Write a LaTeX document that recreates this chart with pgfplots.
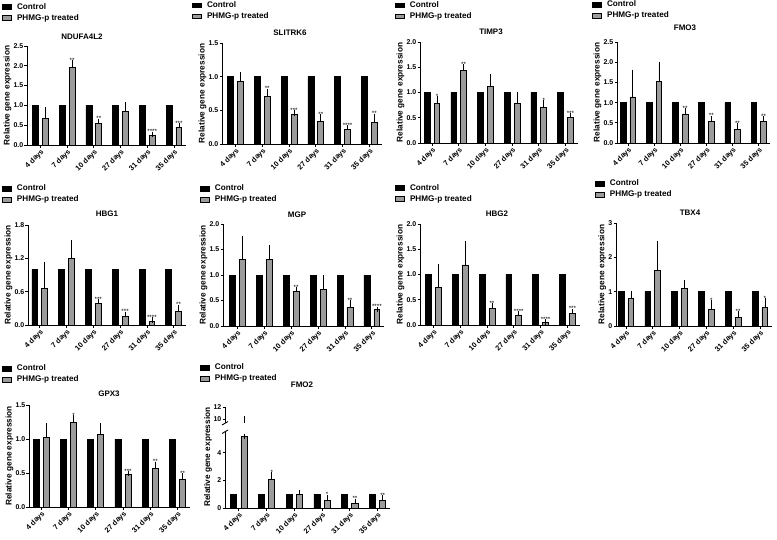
\documentclass[border=0pt]{standalone}
\usepackage{fontspec}
\setmainfont{Liberation Sans}
\usepackage{pgfplots}
\pgfplotsset{compat=1.18}
\definecolor{phmg}{RGB}{155,155,155}
\newcommand\tickfont{\bfseries\fontsize{7}{7}\selectfont}
\newcommand\xtickfont{\bfseries\fontsize{7.4}{7.4}\selectfont}
\newcommand\labfont{\bfseries\fontsize{8.3}{9}\selectfont}
\newcommand\legfont{\bfseries\fontsize{8.2}{8.5}\selectfont}
\newcommand\titfont{\bfseries\fontsize{8}{9}\selectfont}
\newcommand\starfont{\fontsize{6.2}{6.2}\selectfont}
\pgfplotsset{
 panel/.style={
  scale only axis, axis lines=left, axis line style={-, line width=0.9bp, black},
  ymin=0, xmin=-0.5, xmax=5.45, clip=false,
  xtick={0,...,5}, xticklabels={4 days,7 days,10 days,27 days,31 days,35 days},
  x tick label style={rotate=45, anchor=north east, font=\xtickfont, inner sep=0.5bp},
  y tick label style={font=\tickfont, inner sep=1bp},
  tick align=outside, major tick length=2.5bp, tick style={line width=0.8bp, black},
  /pgf/number format/assume math mode=true,
  yticklabel style={/pgf/number format/.cd, fixed, fixed zerofill, precision=1},
  ylabel={Relative gene expression}, ylabel style={font=\labfont, inner sep=1bp},
  legend style={draw=none, fill=none, anchor=north west, font=\legfont, inner sep=0pt,
    row sep=2bp, column sep=5bp, nodes={inner sep=0.5bp, text height=6.2bp, text depth=1.8bp}},
  legend cell align=left,
  legend image code/.code={\path[##1] (0bp,-2.3bp) rectangle (8.5bp,2.3bp);},
 },
 errs/.style={error bars/.cd, y dir=plus, y explicit, error mark=-,
   error bar style={line width=0.7bp, draw=black, solid},
   error mark options={mark size=2.6bp, line width=0.7bp, draw=black, solid}},
 ctrl/.style={ybar, bar width=0.22, bar shift=0, fill=black, draw=black, line width=0.6bp},
 trt/.style={ybar, bar width=0.22, bar shift=0, fill=phmg, draw=black, line width=0.8bp, errs},
 stars/.style={forget plot, only marks, mark=none, nodes near coords, point meta=explicit symbolic,
   nodes near coords style={font=\starfont, anchor=south, inner sep=0.3bp}},
}
\begin{document}
\begin{tikzpicture}
\useasboundingbox (0,0) rectangle (777bp,-540bp);
% ---------- P1 NDUFA4L2
\begin{axis}[panel, at={(27bp,-145bp)}, anchor=south west, width=159bp, height=99bp,
  ymax=2.5, ytick={0,0.5,1,1.5,2,2.5}, legend style={at={(axis description cs:-0.157,1.441)}}]
\addplot[ctrl] coordinates {(-0.185,1) (0.815,1) (1.815,1) (2.815,1) (3.815,1) (4.815,1)};
\addplot[trt] coordinates {(0.185,0.67) +- (0,0.23) (1.185,1.95) +- (0,0.13) (2.185,0.55) +- (0,0.05) (3.185,0.85) +- (0,0.17) (4.185,0.25) +- (0,0.02) (5.185,0.45) +- (0,0.04)};
\addplot[stars] coordinates {(1.185,2.08) [**] (2.185,0.60) [**] (4.185,0.27) [****] (5.185,0.49) [***]};
\legend{Control, PHMG-p treated}
\end{axis}
\node[font=\titfont] at (82bp,-37bp) {NDUFA4L2};
% ---------- P2 SLITRK6
\begin{axis}[panel, at={(222bp,-144bp)}, anchor=south west, width=159.5bp, height=101bp,
  ymax=1.5, ytick={0,0.5,1,1.5}, legend style={at={(axis description cs:-0.188,1.420)}}]
\addplot[ctrl] coordinates {(-0.185,1) (0.815,1) (1.815,1) (2.815,1) (3.815,1) (4.815,1)};
\addplot[trt] coordinates {(0.185,0.93) +- (0,0.10) (1.185,0.71) +- (0,0.07) (2.185,0.44) +- (0,0.02) (3.185,0.33) +- (0,0.07) (4.185,0.21) +- (0,0.03) (5.185,0.32) +- (0,0.09)};
\addplot[stars] coordinates {(1.185,0.78) [**] (2.185,0.46) [***] (3.185,0.40) [**] (4.185,0.24) [****] (5.185,0.41) [**]};
\legend{Control, PHMG-p treated}
\end{axis}
\node[font=\titfont] at (290bp,-33bp) {SLITRK6};
% ---------- P3 TIMP3
\begin{axis}[panel, at={(420bp,-143bp)}, anchor=south west, width=157.5bp, height=101bp,
  xmin=-0.45, ymax=2, ytick={0,0.5,1,1.5,2}, legend style={at={(axis description cs:-0.159,1.410)}}]
\addplot[ctrl] coordinates {(-0.185,1) (0.815,1) (1.815,1) (2.815,1) (3.815,1) (4.815,1)};
\addplot[trt] coordinates {(0.185,0.78) +- (0,0.10) (1.185,1.43) +- (0,0.08) (2.185,1.12) +- (0,0.19) (3.185,0.79) +- (0,0.16) (4.185,0.70) +- (0,0.10) (5.185,0.51) +- (0,0.03)};
\addplot[stars] coordinates {(0.185,0.88) [*] (1.185,1.51) [**] (4.185,0.80) [*] (5.185,0.54) [***]};
\legend{Control, PHMG-p treated}
\end{axis}
\node[font=\titfont] at (491bp,-32bp) {TIMP3};
% ---------- P4 FMO3
\begin{axis}[panel, at={(617bp,-143bp)}, anchor=south west, width=153bp, height=101bp,
  xmin=-0.42, xmax=5.43, ymax=2.5, ytick={0,0.5,1,1.5,2,2.5}, legend style={at={(axis description cs:-0.163,1.416)}}]
\addplot[ctrl] coordinates {(-0.185,1) (0.815,1) (1.815,1) (2.815,1) (3.815,1) (4.815,1)};
\addplot[trt] coordinates {(0.185,1.14) +- (0,0.61) (1.185,1.52) +- (0,0.42) (2.185,0.72) +- (0,0.07) (3.185,0.54) +- (0,0.07) (4.185,0.33) +- (0,0.09) (5.185,0.53) +- (0,0.07)};
\addplot[stars] coordinates {(2.185,0.79) [**] (3.185,0.61) [**] (4.185,0.42) [**] (5.185,0.60) [**]};
\legend{Control, PHMG-p treated}
\end{axis}
\node[font=\titfont] at (685bp,-28bp) {FMO3};
% ---------- P5 HBG1
\begin{axis}[panel, at={(28bp,-325bp)}, anchor=south west, width=158bp, height=100bp,
  xmin=-0.44, xmax=5.46, ymax=1.8, ytick={0,0.6,1.2,1.8}, legend style={at={(axis description cs:-0.165,1.411)}}]
\addplot[ctrl] coordinates {(-0.185,1) (0.815,1) (1.815,1) (2.815,1) (3.815,1) (4.815,1)};
\addplot[trt] coordinates {(0.185,0.66) +- (0,0.42) (1.185,1.20) +- (0,0.28) (2.185,0.39) +- (0,0.03) (3.185,0.15) +- (0,0.04) (4.185,0.07) +- (0,0.02) (5.185,0.25) +- (0,0.07)};
\addplot[stars] coordinates {(2.185,0.42) [***] (3.185,0.19) [***] (4.185,0.09) [****] (5.185,0.32) [**]};
\legend{Control, PHMG-p treated}
\end{axis}
\node[font=\titfont] at (107bp,-214bp) {HBG1};
% ---------- P6 MGP
\begin{axis}[panel, at={(223bp,-326bp)}, anchor=south west, width=161bp, height=102bp,
  xmin=-0.53, ymax=2, ytick={0,0.5,1,1.5,2}, legend style={at={(axis description cs:-0.143,1.393)}}]
\addplot[ctrl] coordinates {(-0.185,1) (0.815,1) (1.815,1) (2.815,1) (3.815,1) (4.815,1)};
\addplot[trt] coordinates {(0.185,1.31) +- (0,0.41) (1.185,1.30) +- (0,0.24) (2.185,0.67) +- (0,0.04) (3.185,0.72) +- (0,0.23) (4.185,0.37) +- (0,0.09) (5.185,0.32) +- (0,0.01)};
\addplot[stars] coordinates {(2.185,0.71) [**] (4.185,0.46) [**] (5.185,0.33) [****]};
\legend{Control, PHMG-p treated}
\end{axis}
\node[font=\titfont] at (297bp,-215bp) {MGP};
% ---------- P7 HBG2
\begin{axis}[panel, at={(420bp,-325bp)}, anchor=south west, width=160bp, height=101bp,
  xmax=5.47, ymax=2, ytick={0,0.5,1,1.5,2}, legend style={at={(axis description cs:-0.156,1.403)}}]
\addplot[ctrl] coordinates {(-0.185,1) (0.815,1) (1.815,1) (2.815,1) (3.815,1) (4.815,1)};
\addplot[trt] coordinates {(0.185,0.75) +- (0,0.40) (1.185,1.19) +- (0,0.42) (2.185,0.32) +- (0,0.06) (3.185,0.20) +- (0,0.02) (4.185,0.05) +- (0,0.01) (5.185,0.22) +- (0,0.05)};
\addplot[stars] coordinates {(2.185,0.38) [**] (3.185,0.22) [****] (4.185,0.06) [****] (5.185,0.27) [***]};
\legend{Control, PHMG-p treated}
\end{axis}
\node[font=\titfont] at (497bp,-214bp) {HBG2};
% ---------- P8 TBX4
\begin{axis}[panel, at={(616bp,-326bp)}, anchor=south west, width=156bp, height=103bp,
  xmin=-0.37, ymax=3, ytick={0,1,2,3}, yticklabel style={/pgf/number format/precision=0},
  legend style={at={(axis description cs:-0.135,1.428)}}]
\addplot[ctrl] coordinates {(-0.185,1) (0.815,1) (1.815,1) (2.815,1) (3.815,1) (4.815,1)};
\addplot[trt] coordinates {(0.185,0.79) +- (0,0.16) (1.185,1.61) +- (0,0.80) (2.185,1.10) +- (0,0.17) (3.185,0.49) +- (0,0.19) (4.185,0.26) +- (0,0.10) (5.185,0.53) +- (0,0.21)};
\addplot[stars] coordinates {(3.185,0.68) [*] (4.185,0.36) [**] (5.185,0.74) [*]};
\legend{Control, PHMG-p treated}
\end{axis}
\node[font=\titfont] at (690bp,-213bp) {TBX4};
% ---------- P9 GPX3
\begin{axis}[panel, at={(29bp,-507bp)}, anchor=south west, width=161bp, height=102bp,
  xmin=-0.45, xmax=5.46, ymax=1.5, ytick={0,0.5,1,1.5}, legend style={at={(axis description cs:-0.168,1.403)}}]
\addplot[ctrl] coordinates {(-0.185,1) (0.815,1) (1.815,1) (2.815,1) (3.815,1) (4.815,1)};
\addplot[trt] coordinates {(0.185,1.02) +- (0,0.18) (1.185,1.24) +- (0,0.07) (2.185,1.07) +- (0,0.13) (3.185,0.48) +- (0,0.01) (4.185,0.57) +- (0,0.06) (5.185,0.40) +- (0,0.06)};
\addplot[stars] coordinates {(1.185,1.31) [*] (3.185,0.49) [***] (4.185,0.63) [**] (5.185,0.46) [**]};
\legend{Control, PHMG-p treated}
\end{axis}
\node[font=\titfont] at (109bp,-394bp) {GPX3};
% ---------- P10 FMO2 (broken axis)
\begin{axis}[panel, at={(225bp,-508bp)}, anchor=south west, width=165bp, height=76bp,
  ymax=5.5, ytick={0,2,4}, yticklabel style={/pgf/number format/precision=0},
  ylabel style={at={(ticklabel* cs:0.67,12bp)}},
  legend style={at={(axis description cs:-0.152,1.909)}}]
\addplot[ctrl] coordinates {(-0.185,1) (0.815,1) (1.815,1) (2.815,1) (3.815,1) (4.815,1)};
\addplot[trt] coordinates {(0.185,5.2) +- (0,0) (1.185,2.04) +- (0,0.36) (2.185,1.0) +- (0,0.13) (3.185,0.53) +- (0,0.24) (4.185,0.36) +- (0,0.12) (5.185,0.53) +- (0,0.19)};
\addplot[stars] coordinates {(1.185,2.40) [*] (3.185,0.77) [*] (4.185,0.48) [**] (5.185,0.72) [**]};
\legend{Control, PHMG-p treated}
\draw[line width=0.9bp] (axis description cs:0,1) ++(-3bp,-1.5bp) -- ++(6bp,3.5bp);
\end{axis}
\begin{axis}[scale only axis, at={(225bp,-423bp)}, anchor=south west, width=165bp, height=16bp,
  xmin=-0.5, xmax=5.45, ymin=9.4, ymax=12, axis x line=none, axis y line=left,
  axis line style={-, line width=0.9bp, black}, ytick={10,12}, clip=false,
  y tick label style={font=\tickfont, inner sep=1bp}, tick align=outside,
  major tick length=2.5bp, tick style={line width=0.8bp, black},
  /pgf/number format/assume math mode=true]
\addplot[forget plot, draw=none, mark=none, errs]
  coordinates {(0.185,9.4) +- (0,0.75)};
\draw[line width=0.9bp] (axis description cs:0,0) ++(-3bp,-2bp) -- ++(6bp,3.5bp);
\end{axis}
\node[font=\titfont] at (302bp,-385bp) {FMO2};
\end{tikzpicture}
\end{document}
